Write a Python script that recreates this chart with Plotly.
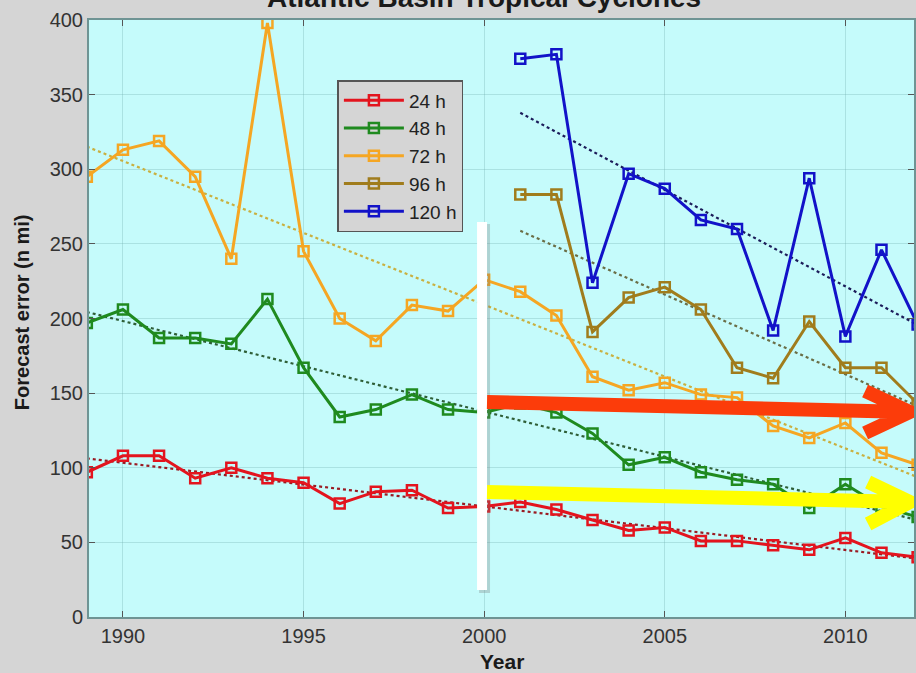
import numpy as np
import plotly.graph_objects as go

# ---------------- data ----------------
years = list(range(1989, 2013))
years_late = list(range(2001, 2013))

err_24h = [97, 108, 108, 93, 100, 93, 90, 76, 84, 85, 73, 74,
           77, 72, 65, 58, 60, 51, 51, 48, 45, 53, 43, 40]
err_48h = [197, 206, 187, 187, 183, 213, 167, 134, 139, 149, 139, 137,
           143, 137, 123, 102, 107, 97, 92, 89, 73, 89, 74, 67]
err_72h = [295, 313, 319, 295, 240, 398, 245, 200, 185, 209, 205, 226,
           218, 202, 161, 152, 157, 149, 147, 128, 120, 130, 110, 102]
err_96h = [283, 283, 191, 214, 221, 206, 167, 160, 198, 167, 167, 143]
err_120h = [374, 377, 224, 297, 287, 266, 260, 192, 294, 188, 246, 196]

series_names = ["24 h", "48 h", "72 h", "96 h", "120 h"]
x_ticks = [1990, 1995, 2000, 2005, 2010]
y_ticks = [0, 50, 100, 150, 200, 250, 300, 350, 400]

title_text = "Atlantic Basin Tropical Cyclones"
x_title = "Year"
y_title = "Forecast error (n mi)"

# ---------------- style ----------------
line_colors = ["#e3141e", "#1f8a1f", "#f5a623", "#a07c1c", "#1212c8"]
trend_colors = ["#9a1a22", "#2e5e36", "#c9b040", "#6a6e46", "#1c1c5a"]
FONT = "Liberation Sans, Arial, sans-serif"

X_RANGE = [1989.06, 2011.9]
Y_RANGE = [0, 400]
ML, MR, MT, MB = 89, 0, 20, 56
W, H = 916, 673
PW = W - ML - MR
PH = H - MT - MB

fig = go.Figure()

all_series = [
    (years, err_24h),
    (years, err_48h),
    (years, err_72h),
    (years_late, err_96h),
    (years_late, err_120h),
]

# trend lines (least-squares fit of each series)
for (xs, ys), tc in zip(all_series, trend_colors):
    k, b = np.polyfit(xs, ys, 1)
    xe = [xs[0], xs[-1]]
    fig.add_trace(go.Scatter(
        x=xe, y=[k * v + b for v in xe], mode="lines",
        line=dict(color=tc, width=2.2, dash="dot"),
        showlegend=False, hoverinfo="skip"))

for (xs, ys), name, col in zip(all_series, series_names, line_colors):
    fig.add_trace(go.Scatter(
        x=xs, y=ys, mode="lines+markers", name=name,
        line=dict(color=col, width=3),
        marker=dict(symbol="square-open", size=10, color=col,
                    line=dict(color=col, width=2.5))))


# overlay helper: pixel position -> data coordinates
def px2data(px, py):
    xd = X_RANGE[0] + (px - ML) / PW * (X_RANGE[1] - X_RANGE[0])
    yd = Y_RANGE[1] - (py - MT) / PH * (Y_RANGE[1] - Y_RANGE[0])
    return xd, yd


def path(points):
    segs = []
    for cmd, (px, py) in points:
        xd, yd = px2data(px, py)
        segs.append(f"{cmd}{xd:.4f},{yd:.4f}")
    return " ".join(segs)


def paper_x(px):
    return (px - ML) / PW


def paper_y(py):
    return (H - MB - py) / PH


shapes = []
# white vertical bar (with faint shadow)
x0, y0 = px2data(478, 222)
x1, y1 = px2data(488, 590)
x0s, y0s = px2data(480, 224)
x1s, y1s = px2data(491, 593)
shapes.append(dict(type="rect", xref="x", yref="y", x0=x0s, x1=x1s, y0=y0s, y1=y1s,
                   fillcolor="rgba(120,120,120,0.3)", line=dict(width=0), layer="above"))
shapes.append(dict(type="rect", xref="x", yref="y", x0=x0, x1=x1, y0=y0, y1=y1,
                   fillcolor="white", line=dict(width=0), layer="above"))
# red arrow
shapes.append(dict(type="path", xref="x", yref="y", layer="above",
                   path=path([("M", (488, 402)), ("L", (912, 412)),
                              ("M", (867, 391)), ("L", (912, 412)), ("L", (867, 433))]),
                   line=dict(color="#fc3c0a", width=14)))
# yellow arrow
shapes.append(dict(type="path", xref="x", yref="y", layer="above",
                   path=path([("M", (488, 492)), ("L", (912, 502)),
                              ("M", (870, 482)), ("L", (912, 502)), ("L", (870, 524))]),
                   line=dict(color="#ffff00", width=14)))

annotations = [
    dict(text=f"<b>{title_text}</b>", xref="paper", yref="paper",
         x=paper_x(485), y=paper_y(-3), xanchor="center", yanchor="middle",
         showarrow=False, font=dict(size=28, color="#1a1a1a", family=FONT)),
    dict(text=f"<b>{y_title}</b>", xref="paper", yref="paper",
         x=paper_x(22), y=paper_y(312), xanchor="center", yanchor="middle",
         textangle=-90, showarrow=False,
         font=dict(size=20, color="#1a1a1a", family=FONT)),
    dict(text=f"<b>{x_title}</b>", xref="paper", yref="paper",
         x=paper_x(503), y=paper_y(661), xanchor="center", yanchor="middle",
         showarrow=False, font=dict(size=21, color="#1a1a1a", family=FONT)),
]

axis_common = dict(
    showline=True, linecolor="#6f9494", linewidth=2, mirror="ticks",
    ticks="inside", ticklen=6, tickcolor="#555", tickwidth=1.2,
    showgrid=True, gridcolor="rgba(110,170,170,0.3)", gridwidth=1,
    zeroline=False,
    tickfont=dict(size=20, color="#333", family=FONT),
)

fig.update_xaxes(range=X_RANGE, tickvals=x_ticks, **axis_common)
fig.update_yaxes(range=Y_RANGE, tickvals=y_ticks, **axis_common)

fig.update_layout(
    width=W, height=H,
    margin=dict(l=ML, r=MR, t=MT, b=MB, pad=0),
    paper_bgcolor="#d5d5d5",
    plot_bgcolor="#c5fbfb",
    legend=dict(x=paper_x(338), y=paper_y(80), xanchor="left", yanchor="top",
                bgcolor="#d5d5d5", bordercolor="#555", borderwidth=1.5,
                font=dict(size=19, color="#222", family=FONT),
                itemwidth=60),
    shapes=shapes,
    annotations=annotations,
    showlegend=True,
)

fig.write_html("out.html", config={"displayModeBar": False},
               post_script="document.body.style.margin='0';")
